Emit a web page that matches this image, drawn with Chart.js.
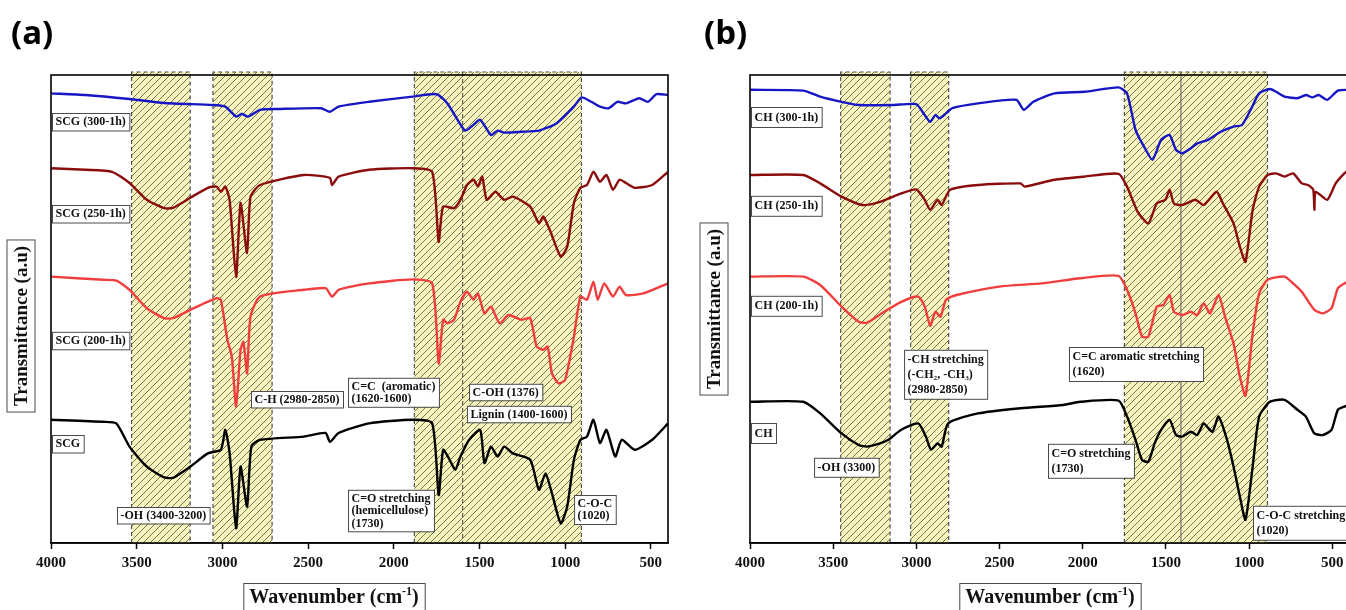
<!DOCTYPE html>
<html>
<head>
<meta charset="utf-8">
<script src="https://cdn.jsdelivr.net/npm/chart.js@4"></script>
<style>
  body { margin: 0; width: 1346px; height: 610px; overflow: hidden; background: #fff; position: relative; }
  .panel { position: absolute; top: 0; height: 610px; }
</style>
</head>
<body>
<div class="panel" style="left:0;width:680px"><canvas id="chartA" width="680" height="610"></canvas></div>
<div class="panel" style="left:680px;width:700px"><canvas id="chartB" width="700" height="610"></canvas></div>
<script>
// [wavenumber, transmittance a.u.]
const scg300 = [[4000,112.4],[3797,112],[3542,111],[3339,110],[3059,109.5],[2983,109.1],[2920,106.6],[2887,107.3],[2851,106.6],[2780,108.3],[2678,108.5],[2424,108.7],[2373,107.8],[2322,109.1],[2144,110.3],[1890,111.6],[1750,112.2],[1687,109.9],[1585,103.1],[1547,104.1],[1496,105.8],[1433,102],[1394,103.1],[1356,102.6],[1255,102.8],[1153,103.1],[1051,104.9],[949,109.1],[904,111.4],[848,110.3],[797,109.1],[746,108.7],[695,110.3],[645,109.9],[568,111.2],[517,110.3],[467,112.2],[400,112]];
const scg250 = [[4000,93.7],[3797,93.3],[3644,92.8],[3542,90],[3441,85.8],[3339,83.7],[3288,83.8],[3187,86.3],[3085,88.8],[3034,89.1],[3009,87.8],[2983,89.1],[2958,85.8],[2920,66.5],[2894,85],[2856,72.5],[2836,86.5],[2780,89.5],[2525,92],[2373,91.3],[2360,89.5],[2322,91.6],[2144,93.3],[1890,93.7],[1776,92.8],[1738,75.3],[1712,84.1],[1649,83.7],[1611,85.8],[1573,89.5],[1534,90.8],[1509,89.1],[1484,91.6],[1458,85.8],[1407,87.8],[1356,85.8],[1305,86.6],[1204,84.1],[1153,79.9],[1128,81.6],[1090,78.3],[1026,71.6],[988,74.1],[949,85],[911,88.8],[873,89.5],[835,92.8],[797,90.3],[759,92],[721,88.3],[683,90.8],[645,90],[594,88.8],[492,89.5],[400,92.8]];
const scg200 = [[4000,66.6],[3695,65.8],[3619,65.6],[3542,63.3],[3441,58.7],[3339,56.2],[3288,56.2],[3187,58.3],[3034,61.2],[3009,60.8],[2971,50.8],[2945,46.6],[2920,34.1],[2894,48.3],[2877,50.3],[2856,42.4],[2836,56.6],[2780,61.6],[2525,63.3],[2398,63.7],[2360,61.6],[2322,63.3],[2144,64.9],[1890,65.9],[1776,64.9],[1738,44.9],[1712,55.8],[1687,54.9],[1649,55.8],[1611,60.3],[1573,62.8],[1534,60.8],[1509,62.4],[1471,57.4],[1433,59.1],[1382,54.9],[1331,57],[1255,55.8],[1204,56.2],[1166,49.1],[1128,48.3],[1102,49.1],[1077,42.4],[1039,39.9],[1000,40.8],[949,51.6],[911,61.6],[873,60.8],[835,65.3],[810,60.8],[772,64.9],[721,61.6],[683,64.1],[645,62],[543,62.4],[400,64.9]];
const scgRaw = [[4000,30.8],[3695,30.3],[3619,29.9],[3542,24.1],[3441,19.1],[3339,16.4],[3288,16.3],[3187,19.1],[3085,22.4],[3009,23.3],[2983,28.3],[2958,22.5],[2920,3.7],[2894,19.1],[2856,9.1],[2831,24.1],[2780,25.8],[2525,26.6],[2398,27.5],[2373,25.3],[2322,27.5],[2144,29.9],[1890,30.8],[1776,29.9],[1738,12],[1712,23.3],[1674,20.8],[1641,18.3],[1611,21.6],[1560,25.8],[1496,28.3],[1471,20],[1433,24.1],[1394,21.6],[1356,24.1],[1305,22.4],[1204,20.8],[1153,13.3],[1115,17.4],[1077,12.4],[1026,4.9],[988,9.1],[949,20.8],[911,25.8],[873,26.6],[835,30.8],[797,25],[759,28.3],[708,21.6],[670,25.8],[594,23.3],[492,25.8],[400,29.9]];

const ch300 = [[4000,113.3],[3680,113.1],[3578,111.6],[3450,110.3],[3347,109.5],[3142,109.5],[3001,109.7],[2950,107],[2917,105.3],[2886,107],[2861,106.2],[2822,107.4],[2784,108.7],[2630,109.9],[2400,110.8],[2354,108.3],[2297,110.3],[2170,112.4],[1990,112.8],[1785,113.9],[1734,112.4],[1683,103.3],[1632,99.1],[1581,95.8],[1529,100.8],[1478,102],[1440,98.3],[1402,97.4],[1350,98.7],[1312,99.9],[1248,100.8],[1171,102.8],[1094,104.1],[1043,104.5],[991,108.3],[940,112.4],[876,113.5],[838,112.8],[787,111.6],[710,111.2],[659,112],[620,111.4],[582,112],[531,110.8],[467,113.1],[400,113.3]];
const ch250 = [[4000,92],[3680,92],[3578,89.9],[3450,86.6],[3322,84.5],[3219,85.3],[3091,87.4],[3001,88.4],[2950,85.8],[2917,83.3],[2873,85.8],[2848,84.5],[2797,88.3],[2630,89.5],[2374,89.9],[2349,89.1],[2170,90.8],[1990,91.6],[1785,92.3],[1734,89.1],[1670,82.8],[1606,79.9],[1555,84.9],[1504,85.8],[1478,88.3],[1452,84.9],[1402,84.5],[1324,85.8],[1273,84.5],[1196,87.8],[1158,84.9],[1094,79.9],[1056,74.1],[1022,70.3],[979,83.3],[940,89.1],[889,92],[838,92.4],[787,91.6],[736,92.4],[684,89.9],[646,89.5],[615,88.3],[608,83.3],[600,87.8],[531,85.8],[480,89.9],[428,92.4],[400,93.3]];
const ch200 = [[4000,66.6],[3680,66.6],[3578,64.5],[3450,59.1],[3347,55.3],[3296,55.1],[3194,57.8],[3091,60.3],[2989,61.6],[2950,59.1],[2917,54.3],[2886,57.8],[2855,56.6],[2822,60.8],[2758,62],[2502,64.1],[2246,64.9],[2016,66.2],[1785,66.8],[1734,63.3],[1683,57.4],[1644,51.6],[1606,51.6],[1555,59.1],[1516,59.5],[1478,62],[1452,57.8],[1402,57],[1350,57.8],[1312,57],[1273,59.9],[1235,57.4],[1184,62],[1145,56.6],[1094,49.9],[1056,41.6],[1022,36.8],[979,52.4],[940,62.4],[889,65.8],[787,66.6],[736,64.9],[684,62.8],[608,58.3],[556,57.4],[505,58.7],[467,63.7],[428,64.9],[400,65.5]];
const chRaw = [[4000,35.3],[3680,35.3],[3578,32.4],[3450,27.4],[3347,24.5],[3296,24.1],[3219,24.9],[3168,25.8],[3091,28.3],[2989,29.9],[2943,26.6],[2912,23.3],[2873,24.9],[2848,24.1],[2809,29.9],[2630,32.4],[2374,33.7],[2118,34.5],[2016,35.3],[1785,35.6],[1734,31.6],[1683,25.8],[1644,20.8],[1606,20.3],[1568,24.9],[1529,28.3],[1478,30.8],[1440,27],[1402,26.6],[1350,27.8],[1312,27],[1273,29.9],[1222,27.8],[1184,31.6],[1133,25.8],[1094,19.1],[1056,11.6],[1022,5.8],[979,19.1],[940,31.6],[876,35.3],[787,35.8],[710,33.3],[659,31.6],[608,27.4],[556,27],[505,28.3],[467,33.3],[428,34.1],[400,34.6]];

const labelsA = ['SCG (300-1h)', 'SCG (250-1h)', 'SCG (200-1h)', 'SCG'];
const labelsB = ['CH (300-1h)', 'CH (250-1h)', 'CH (200-1h)', 'CH'];
const colors = ['#1616c4', '#8a0c0c', '#f03e3e', '#000000'];
const tickValues = [4000, 3500, 3000, 2500, 2000, 1500, 1000, 500];

// shaded regions (wavenumber from, to)
const bandsA = [[3530, 3188], [3055, 2710], [1880, 905]];
const bandsB = [[3455, 3158], [3035, 2806], [1750, 890]];

const serif = '"Liberation Serif", "Times New Roman", serif';

function hatch(ctx) {
  const c = document.createElement('canvas');
  c.width = 7; c.height = 7;
  const g = c.getContext('2d');
  g.fillStyle = '#f6f3bc';
  g.fillRect(0, 0, 7, 7);
  g.strokeStyle = '#76765a';
  g.lineWidth = 1;
  g.beginPath();
  g.moveTo(-1, 8); g.lineTo(8, -1);
  g.moveTo(-1, 1); g.lineTo(1, -1);
  g.moveTo(6, 8); g.lineTo(8, 6);
  g.stroke();
  return ctx.createPattern(c, 'repeat');
}

function drawBox(ctx, lines, x, y, lh) {
  ctx.font = 'bold 12px ' + serif;
  const w = Math.max(...lines.map(t => ctx.measureText(t).width)) + 7;
  const h = lines.length * lh + 4;
  ctx.fillStyle = '#fff';
  ctx.fillRect(x, y, w, h);
  ctx.strokeStyle = '#4a4a4a';
  ctx.lineWidth = 1;
  ctx.strokeRect(x + 0.5, y + 0.5, w, h);
  ctx.fillStyle = '#111';
  ctx.textBaseline = 'middle';
  ctx.textAlign = 'left';
  lines.forEach((t, i) => ctx.fillText(t, x + 3.5, y + 2.5 + lh * (i + 0.5)));
}

function decor(cfg) {
  return {
    id: 'decor',
    beforeDatasetsDraw(chart) {
      const { ctx, chartArea: a, scales: { x } } = chart;
      ctx.save();
      const pat = hatch(ctx);
      cfg.bands.forEach(([w1, w2]) => {
        const x1 = x.getPixelForValue(w1), x2 = x.getPixelForValue(w2);
        ctx.fillStyle = pat;
        ctx.fillRect(x1, a.top - 3, x2 - x1, a.bottom - a.top + 3);
        ctx.strokeStyle = '#505050';
        ctx.lineWidth = 1.2;
        ctx.setLineDash([4, 3]);
        ctx.beginPath();
        ctx.moveTo(x1, a.bottom); ctx.lineTo(x1, a.top - 3);
        ctx.lineTo(x2, a.top - 3); ctx.lineTo(x2, a.bottom);
        ctx.stroke();
      });
      const vx = x.getPixelForValue(cfg.vline.at);
      ctx.strokeStyle = cfg.vline.color;
      ctx.lineWidth = 1;
      ctx.setLineDash(cfg.vline.dash);
      ctx.beginPath();
      ctx.moveTo(vx, a.top - 3); ctx.lineTo(vx, a.bottom);
      ctx.stroke();
      ctx.restore();
    },
    afterDatasetsDraw(chart) {
      const { ctx, chartArea: a, scales: { x, y } } = chart;
      ctx.save();
      ctx.strokeStyle = '#000';
      ctx.lineWidth = 1.6;
      ctx.strokeRect(a.left, a.top, a.right - a.left, a.bottom - a.top);
      chart.data.datasets.forEach((ds, i) => {
        drawBox(ctx, [ds.label], a.left + 1, y.getPixelForValue(cfg.labelTops[i]), cfg.lh + 1);
      });
      cfg.notes.forEach(n => drawBox(ctx, n.lines, x.getPixelForValue(n.x), y.getPixelForValue(n.y), cfg.lh));

      // x title
      ctx.font = 'bold 20px ' + serif;
      const t1 = 'Wavenumber (cm', t3 = ')';
      const w1 = ctx.measureText(t1).width, w3 = ctx.measureText(t3).width;
      ctx.font = 'bold 12px ' + serif;
      const w2 = ctx.measureText('-1').width;
      const tw = w1 + w2 + w3;
      const cx = cfg.xTitle.cx, by = cfg.xTitle.baseline;
      const bx = cx - tw / 2 - 6;
      ctx.fillStyle = '#fff';
      ctx.fillRect(bx, by - 19, tw + 12, 30);
      ctx.strokeStyle = '#4a4a4a';
      ctx.lineWidth = 1;
      ctx.strokeRect(bx + 0.5, by - 19.5, tw + 12, 30);
      ctx.fillStyle = '#111';
      ctx.textBaseline = 'alphabetic';
      ctx.textAlign = 'left';
      ctx.font = 'bold 20px ' + serif;
      ctx.fillText(t1, bx + 6, by);
      ctx.font = 'bold 12px ' + serif;
      ctx.fillText('-1', bx + 6 + w1, by - 8);
      ctx.font = 'bold 20px ' + serif;
      ctx.fillText(t3, bx + 6 + w1 + w2, by);

      // y title
      ctx.translate(cfg.yTitle.cx, cfg.yTitle.cy);
      ctx.rotate(-Math.PI / 2);
      ctx.font = 'bold 19px ' + serif;
      const yt = 'Transmittance (a.u)';
      const yw = ctx.measureText(yt).width;
      ctx.fillStyle = '#fff';
      ctx.fillRect(-yw / 2 - 6, -14, yw + 12, 28);
      ctx.strokeRect(-yw / 2 - 6, -14, yw + 12, 28);
      ctx.fillStyle = '#111';
      ctx.textAlign = 'center';
      ctx.textBaseline = 'middle';
      ctx.fillText(yt, 0, 1);
      ctx.restore();

      ctx.save();
      ctx.font = 'bold 33px "Open Sans", "Liberation Sans", sans-serif';
      ctx.fillStyle = '#000';
      ctx.textBaseline = 'alphabetic';
      ctx.fillText(cfg.letter.text, cfg.letter.x, cfg.letter.y);
      ctx.restore();
    }
  };
}

function makeChart(id, series, labels, pad, cfg) {
  return new Chart(document.getElementById(id), {
    type: 'line',
    data: {
      datasets: series.map((s, i) => ({
        label: labels[i],
        data: s.map(([x, y]) => ({ x, y })),
        borderColor: colors[i],
        borderWidth: 2.4,
        pointRadius: 0,
        tension: 0.2,
        fill: false
      }))
    },
    options: {
      responsive: false,
      animation: false,
      layout: { padding: pad },
      plugins: { legend: { display: false }, tooltip: { enabled: false } },
      scales: {
        x: {
          type: 'linear', reverse: true, min: 400, max: 4000,
          afterBuildTicks: s => { s.ticks = tickValues.map(v => ({ value: v })); },
          ticks: { color: '#111', padding: 5, maxRotation: 0, autoSkip: false,
                   callback: v => String(v),
                   font: { family: serif, weight: 'bold', size: 15 } },
          grid: { drawOnChartArea: false, tickLength: 6, tickWidth: 1.5, tickColor: '#000' },
          border: { color: '#000', width: 1.6 }
        },
        y: { display: false, min: 0, max: 117 }
      }
    },
    plugins: [decor(cfg)]
  });
}

makeChart('chartA', [scg300, scg250, scg200, scgRaw], labelsA,
  { left: 51, right: 12, top: 75, bottom: 33 },
  {
    bands: bandsA,
    vline: { at: 1598, color: '#444', dash: [4, 3] },
    labelTops: [107.5, 84.5, 52.8, 27],
    lh: 12.5,
    notes: [
      { lines: ['-OH (3400-3200)'], x: 3615, y: 9 },
      { lines: ['C-H (2980-2850)'], x: 2833, y: 38 },
      { lines: ['C=C  (aromatic)', '(1620-1600)'], x: 2267, y: 41.3 },
      { lines: ['C-OH (1376)'], x: 1561, y: 39.8 },
      { lines: ['Lignin (1400-1600)'], x: 1573, y: 34.3 },
      { lines: ['C=O stretching', '(hemicellulose)', '(1730)'], x: 2267, y: 13.3 },
      { lines: ['C-O-C', '(1020)'], x: 948, y: 12 }
    ],
    xTitle: { cx: 334, baseline: 603 },
    yTitle: { cx: 21, cy: 326 },
    letter: { text: '(a)', x: 11, y: 44 }
  });

makeChart('chartB', [ch300, ch250, ch200, chRaw], labelsB,
  { left: 70, right: 31, top: 75, bottom: 33 },
  {
    bands: bandsB,
    vline: { at: 1410, color: '#5a5a5a', dash: [] },
    labelTops: [109, 86.8, 61.8, 30],
    lh: 15,
    notes: [
      { lines: ['-OH (3300)'], x: 3615, y: 21.3 },
      { lines: ['-CH stretching', '(-CH\u2082, -CH\u2083)', '(2980-2850)'], x: 3074, y: 48.3 },
      { lines: ['C=C aromatic stretching', '(1620)'], x: 2083, y: 49 },
      { lines: ['C=O stretching', '(1730)'], x: 2209, y: 24.8 },
      { lines: ['C-O-C stretching', '(1020)'], x: 977, y: 9.3 }
    ],
    xTitle: { cx: 370, baseline: 603 },
    yTitle: { cx: 34, cy: 309 },
    letter: { text: '(b)', x: 24, y: 44 }
  });
</script>
</body>
</html>
